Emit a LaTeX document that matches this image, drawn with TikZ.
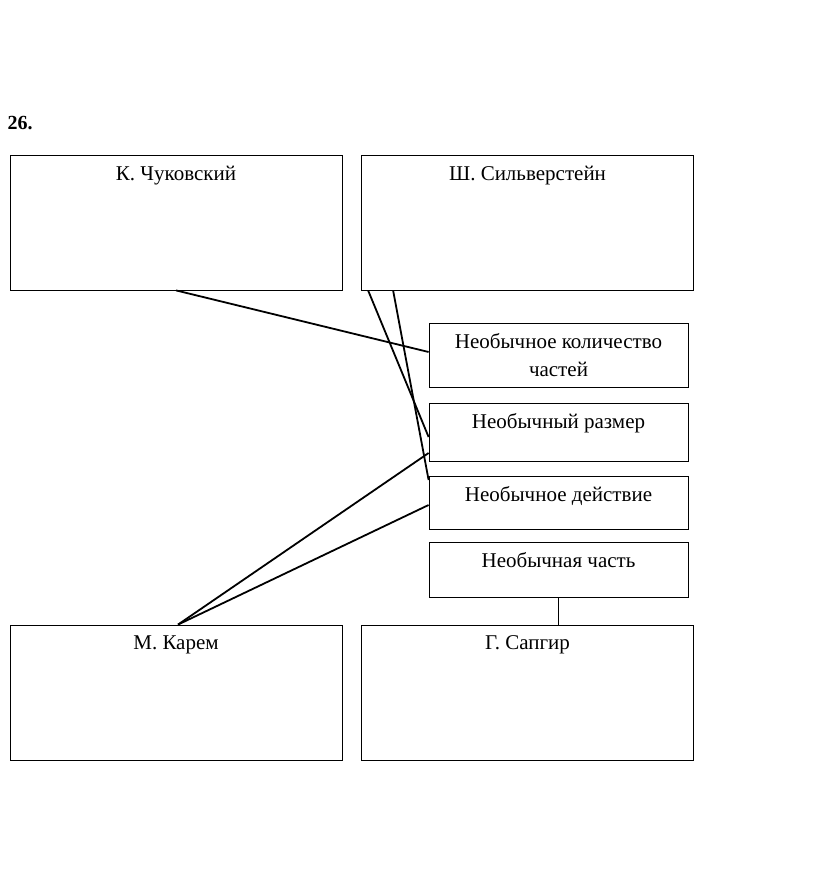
\documentclass[tikz,border=0pt]{standalone}
\usepackage{fontspec}
\setmainfont{Liberation Serif}
\usetikzlibrary{positioning}
\begin{document}
\begin{tikzpicture}[x=1pt,y=-1pt,
    bigbox/.style={draw,line width=0.8pt,minimum width=332pt,minimum height=135pt,inner sep=0pt},
    smallbox/.style={draw,line width=0.8pt,minimum width=259pt,inner sep=0pt},
    boxtext/.style={anchor=north,inner sep=0pt,yshift=-11pt,align=center,
      font=\fontsize{21pt}{28pt}\selectfont},
    link/.style={line width=1.8pt}]
      \useasboundingbox (0,0) rectangle (823,874);
      \node[anchor=west,font=\fontsize{20pt}{24pt}\selectfont\bfseries] (num) at (4,123) {26.};

      \node[bigbox,label={[boxtext]north:К. Чуковский}] (chuk) at (176,222.5) {};
      \node[bigbox,label={[boxtext]north:Ш. Сильверстейн}] (silv) at (527.5,222.5) {};
      \node[bigbox,label={[boxtext]north:М. Карем}] (karem) at (176,692.5) {};
      \node[bigbox,label={[boxtext]north:Г. Сапгир}] (sapgir) at (527.5,692.5) {};

      \node[smallbox,minimum height=64pt,label={[boxtext]north:Необычное количество\\частей}] (count) at (558.5,355) {};
      \node[smallbox,minimum height=58pt,label={[boxtext]north:Необычный размер}] (size) at (558.5,432) {};
      \node[smallbox,minimum height=53pt,label={[boxtext]north:Необычное действие}] (action) at (558.5,502.5) {};
      \node[smallbox,minimum height=55pt,label={[boxtext]north:Необычная часть}] (part) at (558.5,569.5) {};

      \draw[link] (chuk.south) -- ([yshift=3pt]count.west);
      \draw[link] ([xshift=7pt]silv.south west) -- ([yshift=-5pt]size.west);
      \draw[link] ([xshift=32pt]silv.south west) -- ([yshift=22.5pt]action.west);
      \draw[link] ([xshift=2pt]karem.north) -- ([yshift=-21pt]size.west);
      \draw[link] ([xshift=2pt]karem.north) -- ([yshift=-2.5pt]action.west);
      \draw[link] (part.south) -- (part.south |- sapgir.north);
\end{tikzpicture}
\end{document}
